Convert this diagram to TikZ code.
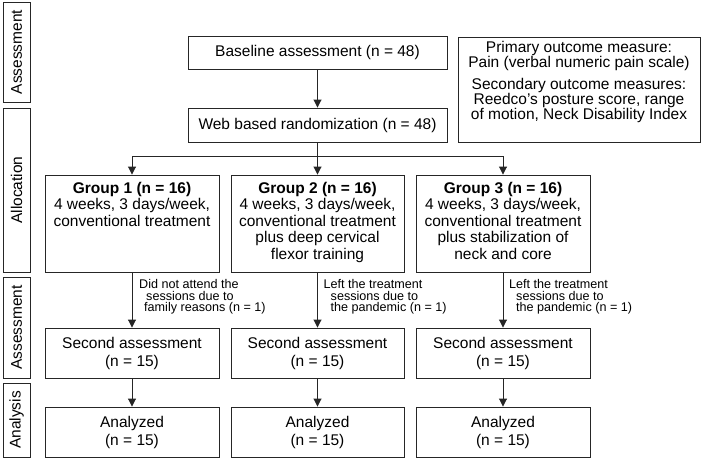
\documentclass[tikz,border=0pt]{standalone}
\usepackage{fontspec}
\setmainfont{Liberation Sans}
\usetikzlibrary{arrows.meta}
\begin{document}
\begin{tikzpicture}[x=1pt,y=-1pt,
  box/.style={draw=black!85,line width=0.9pt,inner sep=0pt,rectangle},
  side/.style={box,minimum width=27pt},
  main/.style={font=\fontsize{15.5}{16.5}\selectfont,align=center,inner sep=0pt},
  lab/.style={font=\fontsize{12.6}{11.8}\selectfont,align=left,inner sep=0pt,anchor=north west},
  arr/.style={draw=black!85,line width=0.9pt,-{Triangle[length=8pt,width=8pt]}},
  ln/.style={draw=black!85,line width=0.9pt}]
\useasboundingbox (0,0) rectangle (702,458);
% side labels
\node[side,minimum height=100pt] (s1) at (16.5,52) {};
\node[main,rotate=90] (s1t) at (s1.center) {Assessment};
\node[side,minimum height=164pt] (s2) at (16.5,190) {};
\node[main,rotate=90] (s2t) at (s2.center) {Allocation};
\node[side,minimum height=101pt] (s3) at (16.5,327.5) {};
\node[main,rotate=90] (s3t) at (s3.center) {Assessment};
\node[side,minimum height=74pt] (s4) at (16.5,420) {};
\node[main,rotate=90] (s4t) at (s4.center) {Analysis};
% top
\node[box,main,minimum width=259pt,minimum height=33pt] (base) at (317.5,52.5) {Baseline assessment (n = 48)};
\node[box,main,minimum width=259pt,minimum height=34pt] (web) at (317.5,125) {Web based randomization (n = 48)};
\node[box,minimum width=242pt,minimum height=105pt] (out) at (579,89.5) {};
\node[main,font=\fontsize{15.5}{15}\selectfont] (out1) at (579,55.5) {Primary outcome measure:\\Pain (verbal numeric pain scale)};
\node[main,font=\fontsize{15.5}{15}\selectfont] (out2) at (579,100) {Secondary outcome measures:\\Reedco\textquoteright s posture score, range\\of motion, Neck Disability Index};
% groups
\node[box,minimum width=174pt,minimum height=97pt] (g1) at (132,223.5) {};
\node[box,minimum width=173pt,minimum height=97pt] (g2) at (317.5,223.5) {};
\node[box,minimum width=174pt,minimum height=97pt] (g3) at (503,223.5) {};
\node[main,anchor=north] (g1t) at (132,182) {\textbf{Group 1 (n = 16)}\\4 weeks, 3 days/week,\\conventional treatment};
\node[main,anchor=north] (g2t) at (317.5,182) {\textbf{Group 2 (n = 16)}\\4 weeks, 3 days/week,\\conventional treatment\\plus deep cervical\\flexor training};
\node[main,anchor=north] (g3t) at (503,182) {\textbf{Group 3 (n = 16)}\\4 weeks, 3 days/week,\\conventional treatment\\plus stabilization of\\neck and core};
% second assessment
\node[box,main,minimum width=174pt,minimum height=50pt,font=\fontsize{15.5}{18}\selectfont] (a1) at (132,353) {Second assessment\\(n = 15)};
\node[box,main,minimum width=173pt,minimum height=50pt,font=\fontsize{15.5}{18}\selectfont] (a2) at (317.5,353) {Second assessment\\(n = 15)};
\node[box,main,minimum width=174pt,minimum height=50pt,font=\fontsize{15.5}{18}\selectfont] (a3) at (503,353) {Second assessment\\(n = 15)};
% analyzed
\node[box,main,minimum width=174pt,minimum height=50pt,font=\fontsize{15.5}{18}\selectfont] (n1) at (132,432) {Analyzed\\(n = 15)};
\node[box,main,minimum width=173pt,minimum height=50pt,font=\fontsize{15.5}{18}\selectfont] (n2) at (317.5,432) {Analyzed\\(n = 15)};
\node[box,main,minimum width=174pt,minimum height=50pt,font=\fontsize{15.5}{18}\selectfont] (n3) at (503,432) {Analyzed\\(n = 15)};
% connectors
\coordinate (br) at (317.5,156);
\draw[arr] (base) -- (web);
\draw[arr] (web) -- (g2);
\draw[arr] (br) -| (g1);
\draw[arr] (br) -| (g3);
\draw[arr] (g1.south -| a1.north) -- (a1.north);
\draw[arr] (g2) -- (a2);
\draw[arr] (g3) -- (a3);
\draw[arr] (a1) -- (n1);
\draw[arr] (a2) -- (n2);
\draw[arr] (a3) -- (n3);
% labels
\node[lab] (l1) at (139,279) {Did not attend the\\\hspace*{7pt}sessions due to\\\hspace*{5pt}family reasons (n = 1)};
\node[lab] (l2) at (323.5,279) {Left the treatment\\\hspace*{7pt}sessions due to\\\hspace*{7pt}the pandemic (n = 1)};
\node[lab] (l3) at (509,279) {Left the treatment\\\hspace*{7pt}sessions due to\\\hspace*{7pt}the pandemic (n = 1)};
\end{tikzpicture}
\end{document}
